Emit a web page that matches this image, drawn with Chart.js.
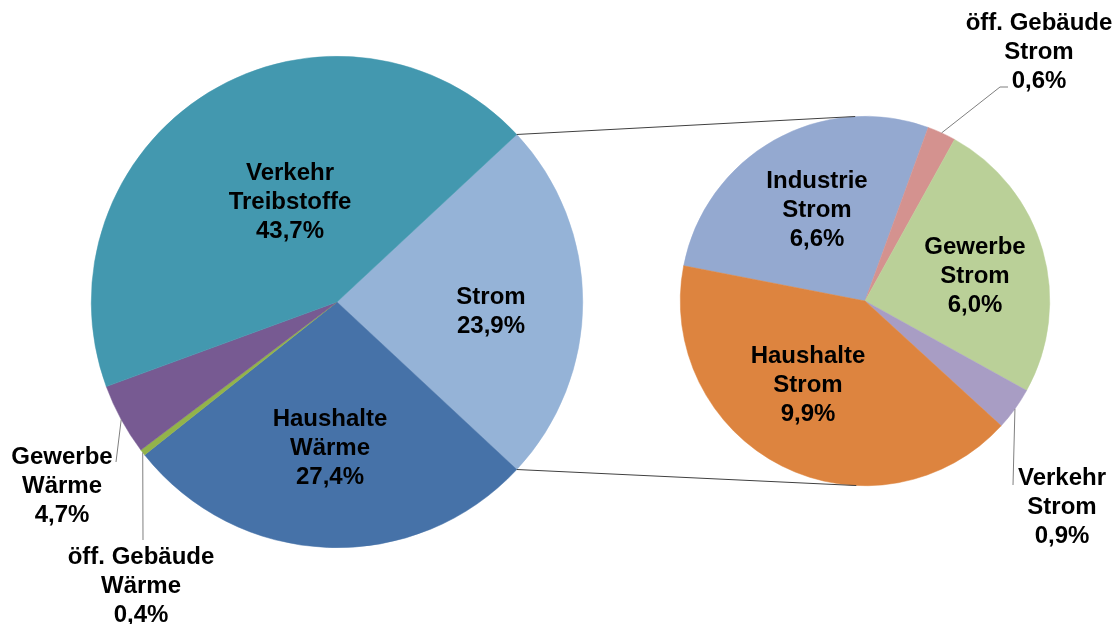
<!DOCTYPE html>
<html>
<head>
<meta charset="utf-8">
<script src="https://cdn.jsdelivr.net/npm/chart.js@4/dist/chart.umd.min.js"></script>
<style>
  html, body { margin: 0; padding: 0; background: #ffffff; }
  #wrap { position: relative; width: 1119px; height: 624px; }
  #wrap canvas { position: absolute; left: 0; top: 0; }
</style>
</head>
<body>
<div id="wrap">
  <canvas id="c1" width="1119" height="624"></canvas>
  <canvas id="c2" width="1119" height="624"></canvas>
</div>
<script>
// ---- data ----
const mainLabels = [["Strom"], ["Haushalte", "Wärme"], ["öff. Gebäude", "Wärme"], ["Gewerbe", "Wärme"], ["Verkehr", "Treibstoffe"]];
const mainValues = [23.9, 27.4, 0.4, 4.7, 43.7];
const subLabels = [["Industrie", "Strom"], ["öff. Gebäude", "Strom"], ["Gewerbe", "Strom"], ["Verkehr", "Strom"], ["Haushalte", "Strom"]];
const subValues = [6.6, 0.6, 6.0, 0.9, 9.9];

// ---- styles / layout ----
const mainColors = ["#95B3D7", "#4672A8", "#93B34A", "#775A92", "#4398AF"];
const subColors = ["#94A9D0", "#D4928F", "#BAD098", "#A89DC4", "#DD843F"];
const FONT = "bold 24px 'Liberation Sans', Arial, sans-serif";
const LH = 29;
// label anchor (center of text block) and optional leader line end
const mainLabelPos = [
  {x: 491, y: 312},
  {x: 330, y: 448},
  {x: 141, y: 586, leader: {x: 143, y: 540}},
  {x: 62, y: 486, leader: {x: 116, y: 462}},
  {x: 290, y: 202}
];
const subLabelPos = [
  {x: 817, y: 210},
  {x: 1039, y: 52, leader: {x: 1000, y: 87}, tail: {x: 1008, y: 87}},
  {x: 975, y: 276},
  {x: 1062, y: 507, leader: {x: 1013, y: 485}},
  {x: 808, y: 385}
];

function fmt(v) { return v.toFixed(1).replace('.', ',') + '%'; }

function drawLabels(chart, labels, values, pos) {
  const ctx = chart.ctx;
  const arcs = chart.getDatasetMeta(0).data;
  ctx.save();
  arcs.forEach((arc, i) => {
    const p = pos[i];
    if (p.leader) {
      const mid = (arc.startAngle + arc.endAngle) / 2;
      const sx = arc.x + Math.cos(mid) * arc.outerRadius;
      const sy = arc.y + Math.sin(mid) * arc.outerRadius;
      ctx.beginPath();
      ctx.strokeStyle = '#7f7f7f';
      ctx.lineWidth = 1;
      ctx.moveTo(sx, sy);
      ctx.lineTo(p.leader.x, p.leader.y);
      if (p.tail) ctx.lineTo(p.tail.x, p.tail.y);
      ctx.stroke();
    }
    const lines = labels[i].concat([fmt(values[i])]);
    ctx.font = FONT;
    ctx.fillStyle = '#000000';
    ctx.textAlign = 'center';
    ctx.textBaseline = 'middle';
    const y0 = p.y - (lines.length - 1) * LH / 2;
    lines.forEach((t, k) => ctx.fillText(t, p.x, y0 + k * LH));
  });
  ctx.restore();
}

const sumMain = mainValues.reduce((a, b) => a + b, 0);
const stromDeg = mainValues[0] / sumMain * 360;

const chart1 = new Chart(document.getElementById('c1'), {
  type: 'pie',
  data: {
    labels: mainLabels.map(l => l.join(' ')),
    datasets: [{
      data: mainValues,
      backgroundColor: mainColors,
      borderColor: mainColors,
      borderWidth: 0.5
    }]
  },
  options: {
    responsive: false,
    animation: false,
    rotation: 90 - stromDeg / 2,
    layout: { padding: { left: 91, right: 536, top: 56, bottom: 76 } },
    plugins: { legend: { display: false }, tooltip: { enabled: false } }
  },
  plugins: [{
    id: 'mainLabels',
    afterDraw(chart) { drawLabels(chart, mainLabels, mainValues, mainLabelPos); }
  }]
});

const chart2 = new Chart(document.getElementById('c2'), {
  type: 'pie',
  data: {
    labels: subLabels.map(l => l.join(' ')),
    datasets: [{
      data: subValues,
      backgroundColor: subColors,
      borderColor: subColors,
      borderWidth: 0.5
    }]
  },
  options: {
    responsive: false,
    animation: false,
    rotation: 281,
    layout: { padding: { left: 680, right: 69, top: 116, bottom: 138 } },
    plugins: { legend: { display: false }, tooltip: { enabled: false } }
  },
  plugins: [{
    id: 'connectors',
    afterDraw(chart) {
      const ctx = chart.ctx;
      const strom = chart1.getDatasetMeta(0).data[0];
      const sub = chart.getDatasetMeta(0).data[0];
      const cx = sub.x, cy = sub.y, r = sub.outerRadius;
      const ends = [strom.startAngle, strom.endAngle];
      ctx.save();
      ctx.strokeStyle = '#404040';
      ctx.lineWidth = 1;
      ends.forEach((a, idx) => {
        const px = strom.x + Math.cos(a) * strom.outerRadius;
        const py = strom.y + Math.sin(a) * strom.outerRadius;
        const dx = px - cx, dy = py - cy;
        const d = Math.hypot(dx, dy);
        const base = Math.atan2(dy, dx);
        const off = Math.acos(r / d);
        const t = idx === 0 ? base + off : base - off;
        ctx.beginPath();
        ctx.moveTo(px, py);
        ctx.lineTo(cx + Math.cos(t) * r, cy + Math.sin(t) * r);
        ctx.stroke();
      });
      ctx.restore();
      drawLabels(chart, subLabels, subValues, subLabelPos);
    }
  }]
});
</script>
</body>
</html>
